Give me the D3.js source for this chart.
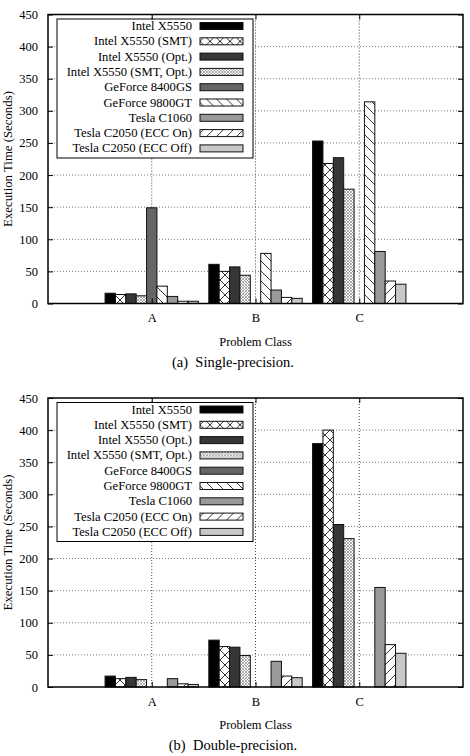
<!DOCTYPE html>
<html lang="en">
<head>
<meta charset="UTF-8">
<script src="https://d3js.org/d3.v7.min.js"></script>
<title>Execution time</title>
<style>
  body { margin: 0; background: #fff; }
  svg text { font-family: "Liberation Serif", "Times New Roman", serif; fill: #000; }
</style>
</head>
<body>
<script>
// series shown in the legend, in drawing order
const series = ["Intel X5550", "Intel X5550 (SMT)", "Intel X5550 (Opt.)", "Intel X5550 (SMT, Opt.)",
  "GeForce 8400GS", "GeForce 9800GT", "Tesla C1060", "Tesla C2050 (ECC On)", "Tesla C2050 (ECC Off)"];
const categories = ["A", "B", "C"];
const yTicks = [0, 50, 100, 150, 200, 250, 300, 350, 400, 450];

// execution time (s), one value per series, null = no bar
const singleA = [16, 14, 15, 12, 149, 27, 11, 3.5, 3.5];
const singleB = [61, 50, 57, 44, null, 78, 21, 9.5, 8];
const singleC = [253, 218, 227, 178, null, 314, 81, 35, 30];
const doubleA = [17, 13, 15, 11.5, null, null, 13, 5, 4];
const doubleB = [73, 63, 62, 49, null, null, 40, 17, 14.5];
const doubleC = [379, 400, 253, 231, null, null, 155, 66, 52.5];

const fills = ["#000", "url(#xhatch)", "#363636", "url(#fine)", "#666", "url(#bslash)", "#999", "url(#fslash)", "#c8c8c8"];

const W = 470, H = 756;
const svg = d3.select("body").append("svg").attr("width", W).attr("height", H)
  .attr("font-family", "Liberation Serif, serif");

// patterns
const defs = svg.append("defs");
function pattern(id, size, d, color, sw) {
  const p = defs.append("pattern").attr("id", id)
    .attr("patternUnits", "userSpaceOnUse").attr("width", size).attr("height", size);
  p.append("rect").attr("width", size).attr("height", size).attr("fill", "#fff");
  p.append("path").attr("d", d).attr("stroke", color).attr("stroke-width", sw).attr("fill", "none");
}
pattern("xhatch", 10, "M0,0L10,10M10,0L0,10", "#000", 0.8);
pattern("fine", 3, "M0,0L3,3M3,0L0,3", "#888", 0.7);
pattern("bslash", 10, "M0,0L10,10M-1,9L1,11M9,-1L11,1", "#000", 0.8);
pattern("fslash", 10, "M0,10L10,0M-1,1L1,-1M9,11L11,9", "#000", 0.8);

const left = 48, right = 463;
const x = d3.scaleLinear().domain([-1, 3]).range([left, right]);
const inner = d3.scaleBand().domain(series).range([-0.45, 0.45]);

function drawChart(top, bottom, data, caption) {
  const g = svg.append("g");
  const y = d3.scaleLinear().domain([0, 450]).range([bottom, top]);

  // grid
  g.selectAll(".hgrid").data(yTicks.filter(d => d > 0 && d < 450)).join("line")
    .attr("x1", left).attr("x2", right)
    .attr("y1", d => y(d)).attr("y2", d => y(d))
    .attr("stroke", "#777").attr("stroke-width", 1).attr("stroke-dasharray", "1,2");
  g.selectAll(".vgrid").data(categories).join("line")
    .attr("x1", (d, i) => x(i)).attr("x2", (d, i) => x(i))
    .attr("y1", top).attr("y2", bottom)
    .attr("stroke", "#444").attr("stroke-width", 1).attr("stroke-dasharray", "1,2");

  // bars
  const bars = [];
  data.forEach((vals, ci) => {
    vals.forEach((v, si) => {
      if (v != null) bars.push({ ci: ci, si: si, v: v });
    });
  });
  g.selectAll(".bar").data(bars).join("rect")
    .attr("x", d => x(d.ci + inner(series[d.si])))
    .attr("width", x(inner.bandwidth()) - x(0))
    .attr("y", d => y(d.v))
    .attr("height", d => y(0) - y(d.v))
    .attr("fill", d => fills[d.si])
    .attr("stroke", "#111").attr("stroke-width", 1);

  // legend
  const leg = g.append("g");
  leg.append("rect").attr("x", 57).attr("y", top + 4.5).attr("width", 196).attr("height", 139)
    .attr("fill", "#fff").attr("stroke", "#000").attr("stroke-width", 1);
  const rows = leg.selectAll(".row").data(series).join("g")
    .attr("transform", (d, i) => `translate(0,${top + 11.5 + i * 15.3})`);
  rows.append("text").attr("x", 192).attr("y", 4).attr("text-anchor", "end")
    .attr("font-size", 12.6).text(d => d);
  rows.append("rect").attr("x", 200).attr("y", -3.5).attr("width", 43).attr("height", 7)
    .attr("fill", (d, i) => fills[i]).attr("stroke", "#111").attr("stroke-width", 1);

  // axes (ticks inside, mirrored)
  const ya = g.append("g").attr("transform", `translate(${left},0)`)
    .call(d3.axisLeft(y).tickValues(yTicks).tickSize(-5).tickPadding(10));
  g.append("g").attr("transform", `translate(${right},0)`)
    .call(d3.axisRight(y).tickValues(yTicks).tickSize(-5).tickFormat(""));
  const xa = g.append("g").attr("transform", `translate(0,${bottom})`)
    .call(d3.axisBottom(x).tickValues([0, 1, 2]).tickSize(-5).tickPadding(10)
      .tickFormat(d => categories[d]));
  g.append("g").attr("transform", `translate(0,${top})`)
    .call(d3.axisTop(x).tickValues([0, 1, 2]).tickSize(-5).tickFormat(""));
  g.selectAll(".domain").remove();
  g.selectAll(".tick line").attr("stroke", "#000");
  g.selectAll(".tick").select(function () { return this.parentNode; })
    .attr("font-family", null);
  ya.selectAll("text").attr("font-size", 12.5);
  xa.selectAll("text").attr("font-size", 12.5);

  // frame
  g.append("rect").attr("x", left).attr("y", top).attr("width", right - left).attr("height", bottom - top)
    .attr("fill", "none").attr("stroke", "#000").attr("stroke-width", 1.5);

  // labels
  g.append("text").attr("transform", `translate(12,${(top + bottom) / 2}) rotate(-90)`)
    .attr("text-anchor", "middle").attr("font-size", 12.8).text("Execution Time (Seconds)");
  g.append("text").attr("x", (left + right) / 2).attr("y", bottom + 42)
    .attr("text-anchor", "middle").attr("font-size", 12.5).text("Problem Class");
  g.append("text").attr("x", 233).attr("y", bottom + 63)
    .attr("text-anchor", "middle").attr("font-size", 14.5).style("white-space", "pre").text(caption);
}

drawChart(14.5, 303.5, [singleA, singleB, singleC], "(a)  Single-precision.");
drawChart(398, 687, [doubleA, doubleB, doubleC], "(b)  Double-precision.");
</script>
</body>
</html>
